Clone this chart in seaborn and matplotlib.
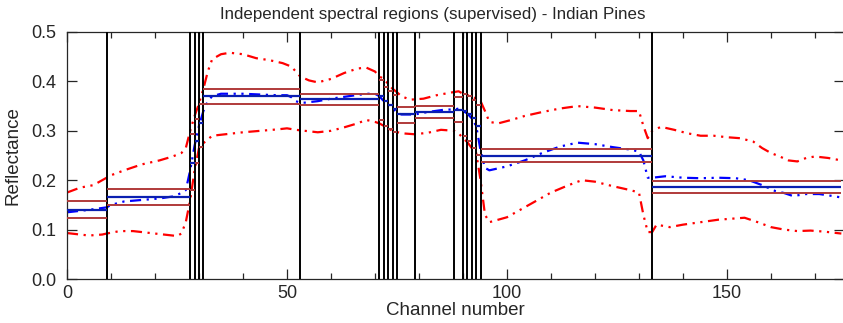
import numpy as np
import pandas as pd
import matplotlib
matplotlib.use("Agg")
import matplotlib.pyplot as plt
import seaborn as sns
from matplotlib.ticker import MultipleLocator

# ---- data ----
mean_ch = [0, 2, 5, 9, 10, 13, 17, 21, 24, 26, 27, 28, 29, 30, 31, 32, 33, 35, 40, 45, 48, 50, 51, 52, 53,
           54, 57, 60, 64, 68, 70, 71, 72, 73, 74, 75, 76, 79, 82, 86, 88, 89, 90, 91, 92, 93, 94, 95, 96,
           100, 104, 108, 112, 116, 120, 124, 128, 130, 131, 132, 133, 136, 140, 144, 148, 152, 155, 158,
           161, 163, 165, 168, 171, 174, 176]
mean_val = [0.135, 0.137, 0.140, 0.145, 0.150, 0.157, 0.160, 0.163, 0.167, 0.174, 0.180, 0.220, 0.270, 0.310,
            0.340, 0.360, 0.370, 0.375, 0.375, 0.373, 0.372, 0.372, 0.368, 0.360, 0.357,
            0.357, 0.360, 0.365, 0.370, 0.375, 0.375, 0.370, 0.360, 0.352, 0.345, 0.338, 0.333, 0.333,
            0.338, 0.343, 0.343, 0.345, 0.340, 0.335, 0.325, 0.310, 0.260, 0.225, 0.220,
            0.228, 0.240, 0.255, 0.268, 0.276, 0.273, 0.267, 0.262, 0.258, 0.240, 0.205, 0.205, 0.208,
            0.205, 0.204, 0.205, 0.204, 0.200, 0.190, 0.178, 0.174, 0.168, 0.172, 0.172, 0.168, 0.165]

up_ch = [0, 3, 6, 9, 10, 13, 17, 21, 24, 26, 27, 28, 29, 30, 31, 32, 33, 35, 37, 40, 43, 46, 49, 51, 52,
         53, 55, 57, 60, 63, 66, 68, 70, 71, 72, 73, 74, 75, 76, 78, 81, 84, 87, 89, 90, 91, 92, 93, 94,
         95, 96, 98, 101, 104, 108, 112, 116, 120, 124, 128, 130, 131, 132, 133, 135, 138, 141, 144,
         147, 150, 153, 156, 158, 160, 162, 164, 166, 168, 170, 173, 176]
up_val = [0.175, 0.185, 0.190, 0.205, 0.210, 0.220, 0.232, 0.240, 0.248, 0.255, 0.265, 0.300, 0.330, 0.355,
          0.385, 0.420, 0.445, 0.455, 0.458, 0.455, 0.447, 0.443, 0.437, 0.430, 0.420,
          0.410, 0.402, 0.398, 0.405, 0.417, 0.426, 0.428, 0.420, 0.410, 0.405, 0.395, 0.385, 0.378,
          0.370, 0.363, 0.365, 0.372, 0.377, 0.380, 0.375, 0.372, 0.370, 0.365, 0.360,
          0.340, 0.318, 0.315, 0.322, 0.330, 0.338, 0.345, 0.350, 0.347, 0.342, 0.340, 0.340, 0.310,
          0.285, 0.300, 0.308, 0.302, 0.295, 0.290, 0.290, 0.287, 0.285, 0.278, 0.265, 0.255, 0.248,
          0.240, 0.238, 0.245, 0.248, 0.245, 0.240]

lo_ch = [0, 3, 5, 8, 9, 12, 15, 19, 22, 25, 26, 27, 28, 29, 30, 31, 33, 36, 40, 44, 48, 50, 52, 54, 57,
         60, 63, 66, 68, 70, 71, 72, 73, 74, 76, 79, 82, 85, 88, 89, 90, 91, 92, 93, 94, 95, 96, 98,
         100, 103, 106, 110, 114, 117, 120, 124, 128, 130, 131, 132, 133, 134, 137, 140, 144, 148,
         151, 154, 157, 160, 163, 166, 169, 172, 176]
lo_val = [0.093, 0.090, 0.088, 0.090, 0.092, 0.097, 0.097, 0.093, 0.090, 0.087, 0.092, 0.115, 0.160,
          0.220, 0.265, 0.275, 0.290, 0.293, 0.297, 0.300, 0.303, 0.305, 0.302, 0.300, 0.297,
          0.300, 0.307, 0.315, 0.322, 0.318, 0.315, 0.310, 0.305, 0.300, 0.295, 0.293, 0.296, 0.302,
          0.300, 0.295, 0.285, 0.277, 0.265, 0.255, 0.200, 0.130, 0.115, 0.120,
          0.125, 0.140, 0.155, 0.175, 0.190, 0.200, 0.197, 0.188, 0.180, 0.175, 0.130, 0.095, 0.095,
          0.110, 0.105, 0.110, 0.115, 0.120, 0.122, 0.124, 0.115, 0.105, 0.100, 0.097, 0.098, 0.096,
          0.092]

# independent spectral regions
region_start = [0, 9, 28, 29, 30, 31, 53, 71, 72, 73, 74, 75, 79, 88, 90, 91, 92, 93, 94, 133]
region_end = [9, 28, 29, 30, 31, 53, 71, 72, 73, 74, 75, 79, 88, 90, 91, 92, 93, 94, 133, 176]
region_mean = [0.140, 0.165, 0.235, 0.280, 0.316, 0.370, 0.364, 0.370, 0.360, 0.352, 0.345, 0.333,
               0.339, 0.342, 0.340, 0.335, 0.325, 0.310, 0.249, 0.187]
region_up = [0.158, 0.182, 0.293, 0.324, 0.355, 0.384, 0.375, 0.403, 0.389, 0.380, 0.372, 0.349,
             0.351, 0.369, 0.375, 0.370, 0.362, 0.352, 0.263, 0.199]
region_lo = [0.123, 0.149, 0.180, 0.235, 0.268, 0.354, 0.352, 0.322, 0.310, 0.303, 0.297, 0.315,
             0.325, 0.317, 0.290, 0.280, 0.265, 0.252, 0.236, 0.175]
boundaries = region_start[1:]

title_text = "Independent spectral regions (supervised) - Indian Pines"

# ---- plotting ----
sns.set_style("ticks")
plt.rcParams['font.family'] = ['Liberation Sans', 'DejaVu Sans']

fig = plt.figure(figsize=(8.43, 3.23), dpi=100)
ax = fig.add_axes([67 / 843, 44 / 323, (844 - 67) / 843, (279 - 32) / 323])

dash = (5, 2.5, 1, 2.5, 1, 2.5)
df_up = pd.DataFrame({"ch": up_ch, "v": up_val})
df_lo = pd.DataFrame({"ch": lo_ch, "v": lo_val})
df_mean = pd.DataFrame({"ch": mean_ch, "v": mean_val})
for d, c in [(df_up, "#ff0000"), (df_lo, "#ff0000"), (df_mean, "#0000ff")]:
    l = sns.lineplot(data=d, x="ch", y="v", ax=ax, color=c, lw=1.6, estimator=None, sort=False)
    l.lines[-1].set_dashes(dash)

for xb in boundaries:
    ax.axvline(xb, color="black", lw=1.4, zorder=4)

ax.hlines(region_up, region_start, region_end, color="#b03a3a", lw=1.4, zorder=5)
ax.hlines(region_lo, region_start, region_end, color="#b03a3a", lw=1.4, zorder=5)
ax.hlines(region_mean, region_start, region_end, color="#0a1fb0", lw=1.6, zorder=5)

ax.set_xlim(0, 176.6)
ax.set_ylim(0, 0.5)
ax.xaxis.set_major_locator(MultipleLocator(50))
ax.xaxis.set_minor_locator(MultipleLocator(10))
ax.yaxis.set_major_locator(MultipleLocator(0.1))
ax.yaxis.set_major_formatter(matplotlib.ticker.FormatStrFormatter('%.1f'))
ax.tick_params(which="both", direction="in", top=True, right=True, labelsize=13, width=0.9)
ax.tick_params(axis="y", pad=8)
ax.tick_params(axis="x", pad=4)
ax.tick_params(which="major", length=7)
ax.tick_params(which="minor", length=4)
for s in ax.spines.values():
    s.set_linewidth(0.9)
ax.set_xlabel("Channel number", fontsize=13.5, labelpad=0)
ax.set_ylabel("Reflectance", fontsize=13.5, labelpad=7)
fig.text(433 / 843, 1 - 15 / 323, title_text, fontsize=12.2, ha="center", va="center")

fig.savefig("out.png", dpi=100)
